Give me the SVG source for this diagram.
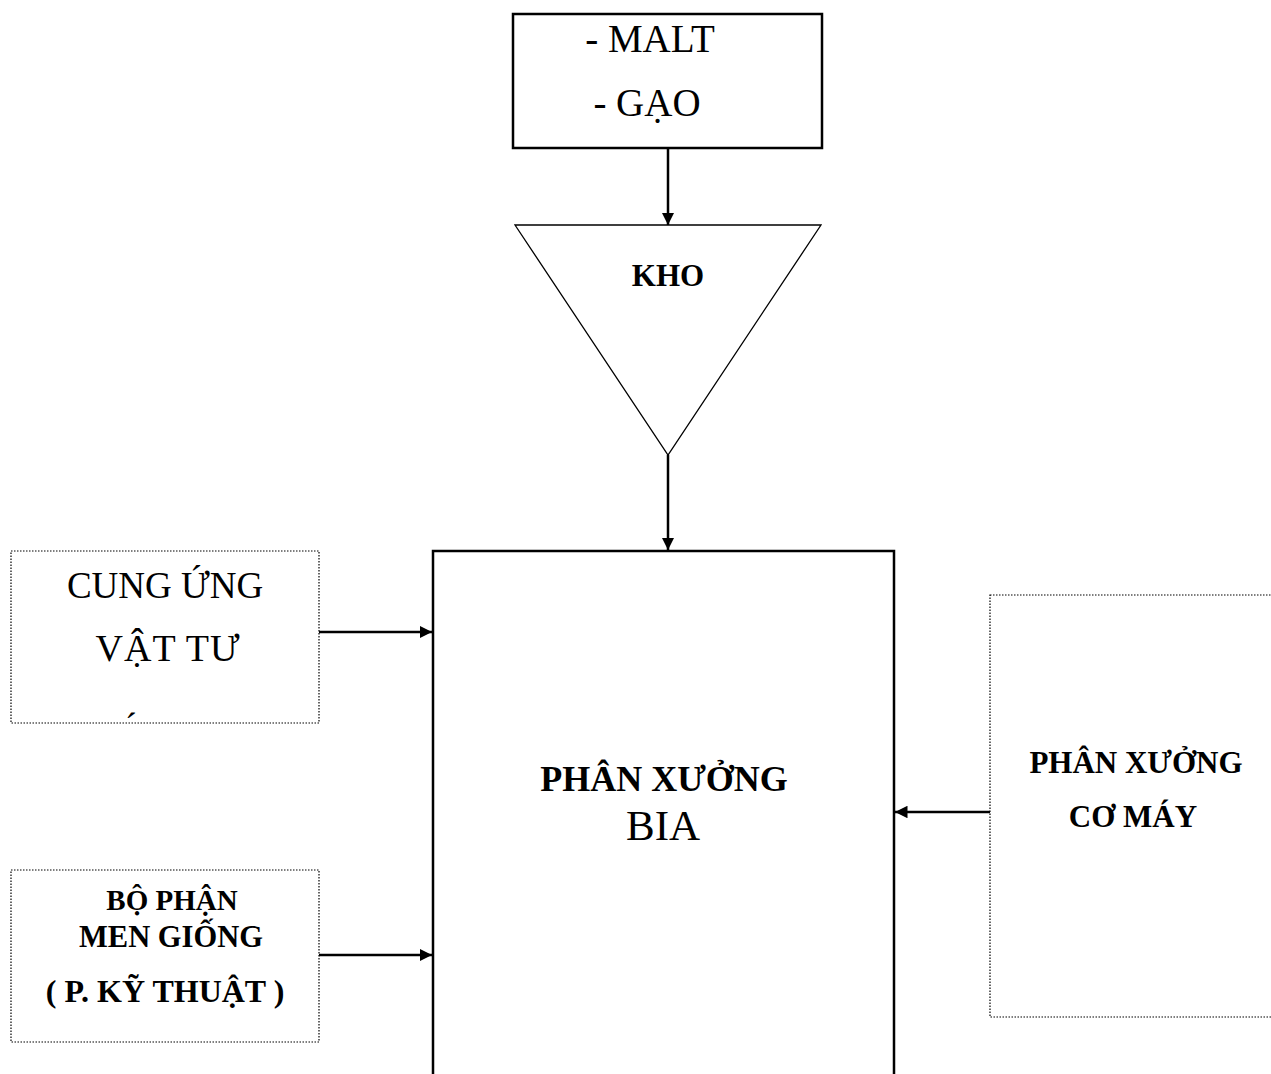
<svg xmlns="http://www.w3.org/2000/svg" width="1271" height="1074" viewBox="0 0 1271 1074">
<style>
.t{font-family:"Liberation Serif","Times New Roman",serif;fill:#000;text-anchor:middle}
.b{font-weight:bold}
.solid{fill:#fff;stroke:#000;stroke-width:2.5}
.dot{fill:#fff;stroke:#000;stroke-width:1.2;stroke-dasharray:1.5 1.5}
.con{stroke:#000;stroke-width:2.5;fill:none}
</style>
<defs>
<marker id="ah" viewBox="0 0 10 10" refX="10" refY="5" markerWidth="5" markerHeight="5" orient="auto" markerUnits="strokeWidth">
<path d="M0,0 L10,5 L0,10 z" fill="#000"/>
</marker>
</defs>
<rect width="1271" height="1074" fill="#fff"/>
<g id="malt">
<rect class="solid" x="513" y="14" width="309" height="134"/>
<text class="t" x="650" y="52" font-size="39">- MALT</text>
<text class="t" x="647" y="116" font-size="39">- GẠO</text>
</g>
<g id="kho">
<polygon points="515,225 821,225 668,455" fill="#fff" stroke="#000" stroke-width="1.3"/>
<text class="t b" x="668" y="286" font-size="31">KHO</text>
</g>
<g id="phanxuongbia">
<polyline points="433,1074 433,551 894,551 894,1074" class="solid"/>
<text class="t b" x="664" y="791" font-size="36">PHÂN XƯỞNG</text>
<text class="t" x="663" y="840" font-size="43">BIA</text>
</g>
<g id="cungung">
<rect class="dot" x="11" y="551" width="308" height="172"/>
<text class="t" x="165" y="598" font-size="37">CUNG ỨNG</text>
<text class="t" x="168" y="661" font-size="38" letter-spacing="1">VẬT TƯ</text>
<text class="t" x="131" y="738" font-size="36">´</text>
</g>
<g id="bophan">
<rect class="dot" x="11" y="870" width="308" height="172"/>
<text class="t b" x="172" y="910" font-size="29">BỘ PHẬN</text>
<text class="t b" x="171" y="947" font-size="30.5">MEN GIỐNG</text>
<text class="t b" x="165" y="1002" font-size="32">( P. KỸ THUẬT )</text>
</g>
<g id="cokhi">
<rect class="dot" x="990" y="595" width="285" height="422"/>
<text class="t b" x="1136" y="773" font-size="31">PHÂN XƯỞNG</text>
<text class="t b" x="1133" y="827" font-size="31">CƠ MÁY</text>
</g>
<g id="connectors">
<line class="con" x1="668" y1="148" x2="668" y2="225" marker-end="url(#ah)"/>
<line class="con" x1="668" y1="455" x2="668" y2="550" marker-end="url(#ah)"/>
<line class="con" x1="319" y1="632" x2="432" y2="632" marker-end="url(#ah)"/>
<line class="con" x1="319" y1="955" x2="432" y2="955" marker-end="url(#ah)"/>
<line class="con" x1="990" y1="812" x2="895" y2="812" marker-end="url(#ah)"/>
</g>
</svg>
